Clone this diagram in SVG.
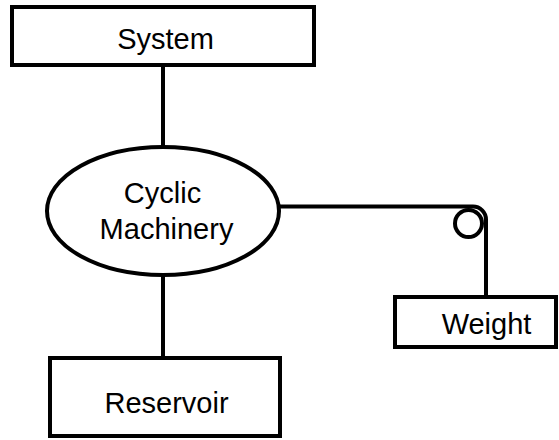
<svg xmlns="http://www.w3.org/2000/svg" width="559" height="440" viewBox="0 0 559 440">
<style>
.box{fill:#fff;stroke:#000;stroke-width:4}
.ln{fill:none;stroke:#000;stroke-width:4}
.t{font-family:"Liberation Sans",Arial,sans-serif;font-size:29px;fill:#000;text-anchor:middle}
</style>
<rect width="559" height="440" fill="#fff"/>
<g id="connectors">
<line class="ln" x1="163" y1="65" x2="163" y2="147"/>
<line class="ln" x1="163" y1="275" x2="163" y2="358"/>
<path class="ln" d="M279,206.5 H473 A13,13 0 0 1 486,219.5 V297"/>
<circle id="pulley" class="ln" cx="468.5" cy="223.5" r="13.5"/>
</g>
<g id="system">
<rect class="box" x="12" y="7" width="302" height="58"/>
<text class="t" x="165.5" y="48.5">System</text>
</g>
<g id="cyclic-machinery">
<ellipse class="box" cx="163" cy="211" rx="116" ry="64"/>
<text class="t" x="162.5" y="202.5">Cyclic</text>
<text class="t" x="166.5" y="238.5">Machinery</text>
</g>
<g id="reservoir">
<rect class="box" x="50" y="358" width="230" height="78"/>
<text class="t" x="166.5" y="412.5">Reservoir</text>
</g>
<g id="weight">
<rect class="box" x="395" y="297" width="161" height="50"/>
<text class="t" x="486.5" y="334">Weight</text>
</g>
</svg>
